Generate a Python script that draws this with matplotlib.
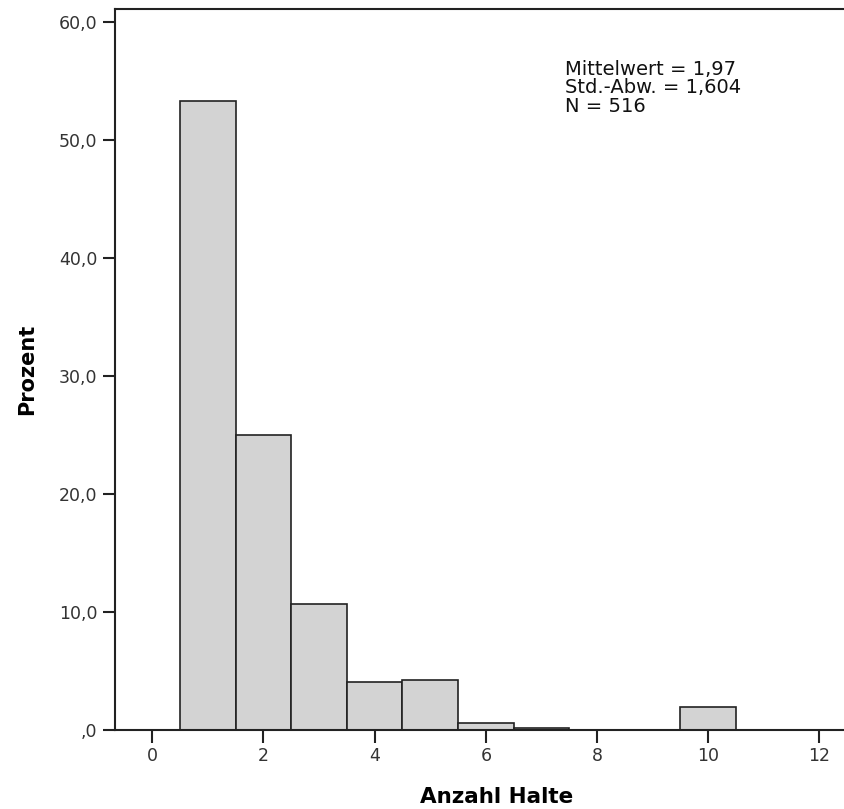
import numpy as np
import matplotlib
matplotlib.use("Agg")
import matplotlib.pyplot as plt
from matplotlib.ticker import FuncFormatter

# Histogram of "Anzahl Halte" (percent per value), N = 516
halte = [1, 2, 3, 4, 5, 6, 7, 10]
prozent = [53.3, 25.0, 10.66, 4.07, 4.26, 0.58, 0.19, 1.94]
stats_text = "Mittelwert = 1,97\nStd.-Abw. = 1,604\nN = 516"

x_ticks = [0, 2, 4, 6, 8, 10, 12]
y_ticks = [0, 10, 20, 30, 40, 50, 60]

fig = plt.figure(figsize=(8.45, 8.09), dpi=100)
ax = fig.add_axes([0.1361, 0.0977, 0.8639, 0.8912])

ax.bar(halte, prozent, width=1.0, color="#d3d3d3", edgecolor="#222222", linewidth=1.2)

ax.set_xlim(-0.67, 12.46)
ax.set_ylim(0, 61.1)
ax.set_xticks(x_ticks)
ax.set_yticks(y_ticks)


def de_fmt(v, pos):
    s = f"{v:.1f}".replace(".", ",")
    return s[1:] if s.startswith("0,") else s


ax.yaxis.set_major_formatter(FuncFormatter(de_fmt))
ax.tick_params(axis="both", labelsize=12.5, colors="#222222", labelcolor="#333333",
               width=1.5, length=9)
ax.spines["right"].set_visible(False)
for s in ["left", "bottom", "top"]:
    ax.spines[s].set_linewidth(1.5)
    ax.spines[s].set_color("#222222")

ax.set_xlabel("Anzahl Halte", fontsize=15.5, fontweight="bold")
ax.xaxis.set_label_coords(0.523, -0.079)
ax.set_ylabel("Prozent", fontsize=15, fontweight="bold", labelpad=16)

ax.text(0.6165, 0.929, stats_text, transform=ax.transAxes, fontsize=14,
        va="top", ha="left", linespacing=0.95, color="#111111")

fig.savefig("out.png", dpi=100)
